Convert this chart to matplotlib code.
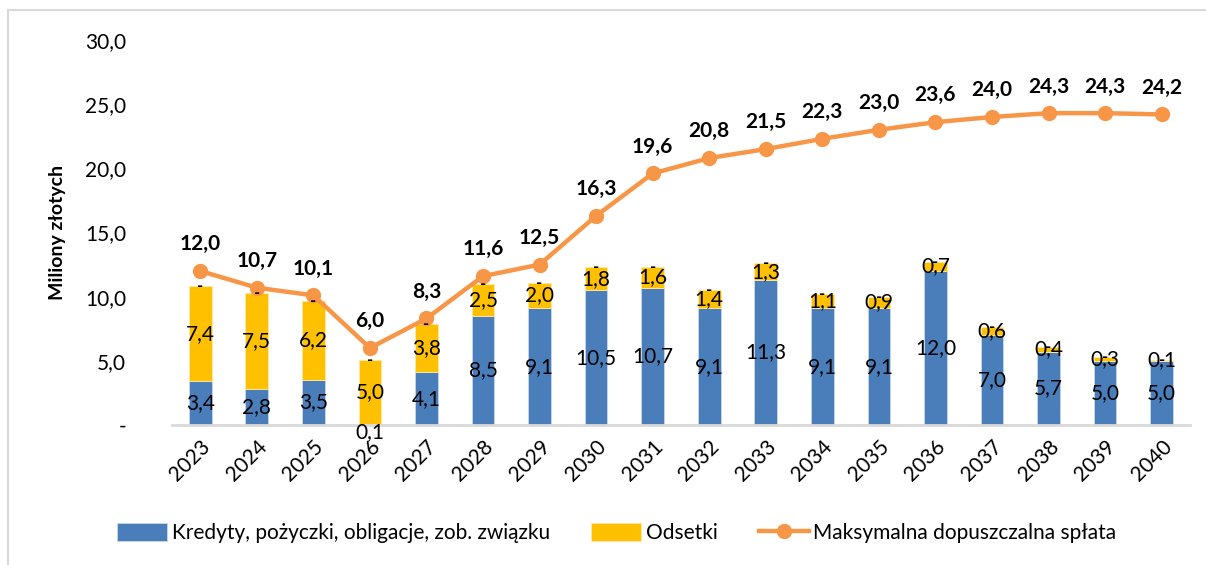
import matplotlib.pyplot as plt
from matplotlib.patches import Rectangle

plt.rcParams['font.family'] = ['Lato', 'DejaVu Sans']

years = [str(y) for y in range(2023, 2041)]
kredyty = [3.4, 2.8, 3.5, 0.1, 4.1, 8.5, 9.1, 10.5, 10.7, 9.1, 11.3, 9.1, 9.1, 12.0, 7.0, 5.7, 5.0, 5.0]
odsetki = [7.4, 7.5, 6.2, 5.0, 3.8, 2.5, 2.0, 1.8, 1.6, 1.4, 1.3, 1.1, 0.9, 0.7, 0.6, 0.4, 0.3, 0.1]
splata = [12.0, 10.7, 10.1, 6.0, 8.3, 11.6, 12.5, 16.3, 19.6, 20.8, 21.5, 22.3, 23.0, 23.6, 24.0, 24.3, 24.3, 24.2]
yticks = [0, 5, 10, 15, 20, 25, 30]

BLUE = '#4A7EBB'
YELLOW = '#FFC000'
ORANGE = '#F79646'


def fmt(v):
    return f'{v:.1f}'.replace('.', ',')


fig = plt.figure(figsize=(12.06, 5.65), dpi=100)
ax = fig.add_axes([0.1426, 0.2478, 0.8441, 0.6814])

# ramka wykresu (przycięta z prawej i z dołu)
fig.patches.append(Rectangle((8 / 1206, -0.1), 1.2, 1 - 10 / 565 + 0.1,
                             transform=fig.transFigure, fill=False,
                             edgecolor='#d9d9d9', linewidth=1.5))

x = list(range(len(years)))
w = 0.4
b1 = ax.bar(x, kredyty, w, color=BLUE, edgecolor='#c9d7ea', linewidth=0.6,
            label='Kredyty, pożyczki, obligacje, zob. związku', zorder=2)
b2 = ax.bar(x, odsetki, w, bottom=kredyty, color=YELLOW, edgecolor='#ffe9a6',
            linewidth=0.6, label='Odsetki', zorder=2)
l1, = ax.plot(x, splata, color=ORANGE, linewidth=3.2, marker='o', markersize=10,
              label='Maksymalna dopuszczalna spłata', zorder=3)

fs = 15
for i in x:
    k, o = kredyty[i], odsetki[i]
    if k < 0.5:
        ax.text(i, k / 2 - 0.6, fmt(k), ha='center', va='center', fontsize=fs, zorder=4)
    else:
        ax.text(i, k / 2, fmt(k), ha='center', va='center', fontsize=fs, zorder=4)
    ax.text(i, k + o / 2, fmt(o), ha='center', va='center', fontsize=fs, zorder=4)
    ax.text(i, k + o, '-', ha='center', va='center', fontsize=12,
            fontweight='bold', zorder=4)
    ax.annotate(fmt(splata[i]), (i, splata[i]), xytext=(0, 12),
                textcoords='offset points', ha='center', va='bottom',
                fontsize=fs, fontweight='bold', zorder=4)

ax.set_xlim(-0.5, len(years) - 0.5)
ax.set_ylim(0, 30)
ax.set_yticks(yticks)
ax.set_yticklabels(['-' if t == 0 else fmt(t) for t in yticks], fontsize=fs)
ax.set_xticks(x)
ax.set_xticklabels(years, rotation=45, ha='right', rotation_mode='anchor', fontsize=fs)
ax.tick_params(axis='x', length=0, pad=8)
ax.tick_params(axis='y', length=0, pad=33)
for s in ['top', 'right', 'left']:
    ax.spines[s].set_visible(False)
ax.spines['bottom'].set_color('#d9d9d9')
ax.spines['bottom'].set_linewidth(2)
ax.set_ylabel('Miliony złotych', fontsize=14, fontweight='bold', labelpad=14)

ax.legend(handles=[b1, b2, l1], loc='center', bbox_to_anchor=(0.437, -0.28),
          ncol=3, frameon=False, fontsize=fs, handlelength=2.4, handleheight=1.0,
          columnspacing=2.0, handletextpad=0.2)

plt.savefig('out.png', dpi=100)
